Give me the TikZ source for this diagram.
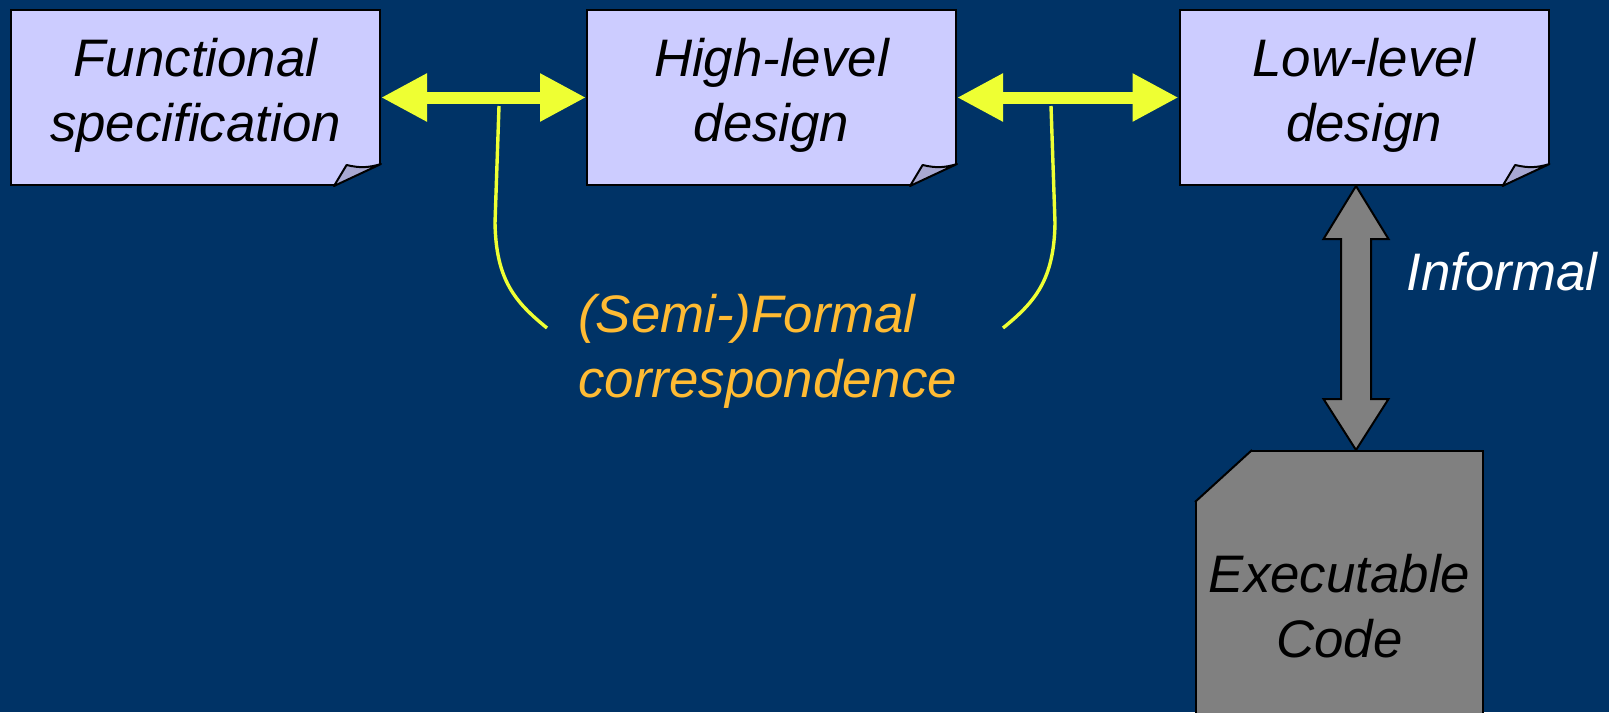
\documentclass[tikz,border=0pt]{standalone}
\usepackage{fontspec}
\setmainfont{Liberation Sans}
\usetikzlibrary{arrows.meta,calc,positioning}

\definecolor{slidebg}{RGB}{0,51,102}
\definecolor{docfill}{RGB}{204,204,255}
\definecolor{foldfill}{RGB}{168,168,210}
\definecolor{hlyellow}{RGB}{238,255,51}
\definecolor{corrorange}{RGB}{255,187,51}
\definecolor{codegray}{RGB}{128,128,128}

\newcommand\slidefont{\fontsize{26.4}{32.5}\selectfont\itshape}

\tikzset{
  doc/.style={draw=black, line width=1pt, fill=docfill, minimum width=184.5pt,
    minimum height=87.5pt, inner sep=0pt, text depth=7.6pt, align=center, font=\slidefont},
  codebox/.style={draw=black, line width=1pt, fill=codegray, minimum width=143.5pt,
    minimum height=155.5pt, inner sep=0pt, align=center, font=\slidefont},
  corr/.style={line width=6pt, hlyellow,
    {Triangle[length=23pt,width=22.5pt]}-{Triangle[length=23pt,width=22.5pt]}},
  curl/.style={hlyellow, line width=1.7pt},
  informal/.style={draw=black, line width=1pt, fill=codegray, line join=miter},
}

% dog-ear at the lower right corner of a document node
\newcommand\pagefold[1]{%
  \fill[slidebg] ($(#1.south east)+(-25.6pt,-1pt)$) -- ($(#1.south east)+(1pt,-1pt)$)
    -- ($(#1.south east)+(1pt,11.5pt)$) -- cycle;
  \filldraw[fill=foldfill, line width=1pt, line join=round]
    ($(#1.south east)+(-23.5pt,0)$) -- ++(6.3pt,10.5pt)
    to[bend right=15] ($(#1.south east)+(0,11pt)$) -- cycle;
}

\begin{document}
\begin{tikzpicture}[x=0.5pt, y=-0.5pt]
  \useasboundingbox (0,0) rectangle (1609,712);
  \clip (0,0) rectangle (1609,712);
  \fill[slidebg] (0,0) rectangle (1609,712);

  % the three design documents
  \node[doc] (fspec) at (195.5,97.5) {Functional\\specification};
  \node[doc] (hld) at (771.5,97.5) {High-level\\design};
  \node[doc] (lld) at (1364,97.5) {Low-level\\design};
  \pagefold{fspec}
  \pagefold{hld}
  \pagefold{lld}

  % code box, top left corner cut off
  \node[codebox] (code) at (1339.5,606.5) {Executable\\Code};
  \fill[slidebg] ([shift={(-1pt,1pt)}]code.north west) -- ([shift={(29.6pt,1pt)}]code.north west)
    -- ([shift={(-1pt,-26.9pt)}]code.north west) -- cycle;
  \draw[line width=1pt] ([xshift=28.5pt]code.north west) -- ([yshift=-26pt]code.north west);

  % correspondences
  \draw[corr] (fspec.east) -- (hld.west);
  \draw[corr] (hld.east) -- (lld.west);
  \draw[curl] (499,106) -- (495,223) .. controls (496,280) and (515,302) .. (547,328);
  \draw[curl] (1051,106) -- (1055,223) .. controls (1054,280) and (1035,302) .. (1003,328);
  \node[anchor=north west, inner sep=0pt, align=left, font=\slidefont, text=corrorange]
    (semi) at (578,294) {(Semi-)Formal\\correspondence};

  % informal link down to the code
  \coordinate (infA) at ([xshift=-4pt]lld.south);
  \coordinate (infB) at (infA |- code.north);
  \filldraw[informal] (infA) -- ++(16.25pt,-26.5pt) -- ++(-8.75pt,0)
    -- ($(infB)+(7.5pt,25.5pt)$) -- ++(8.75pt,0) -- (infB) -- ++(-16.25pt,25.5pt)
    -- ++(8.75pt,0) -- ($(infA)+(-7.5pt,-26.5pt)$) -- ++(-8.75pt,0) -- cycle;
  \node[anchor=west, inner sep=0pt, font=\slidefont, text=white] (inf) at (1406,272) {Informal};
\end{tikzpicture}
\end{document}
